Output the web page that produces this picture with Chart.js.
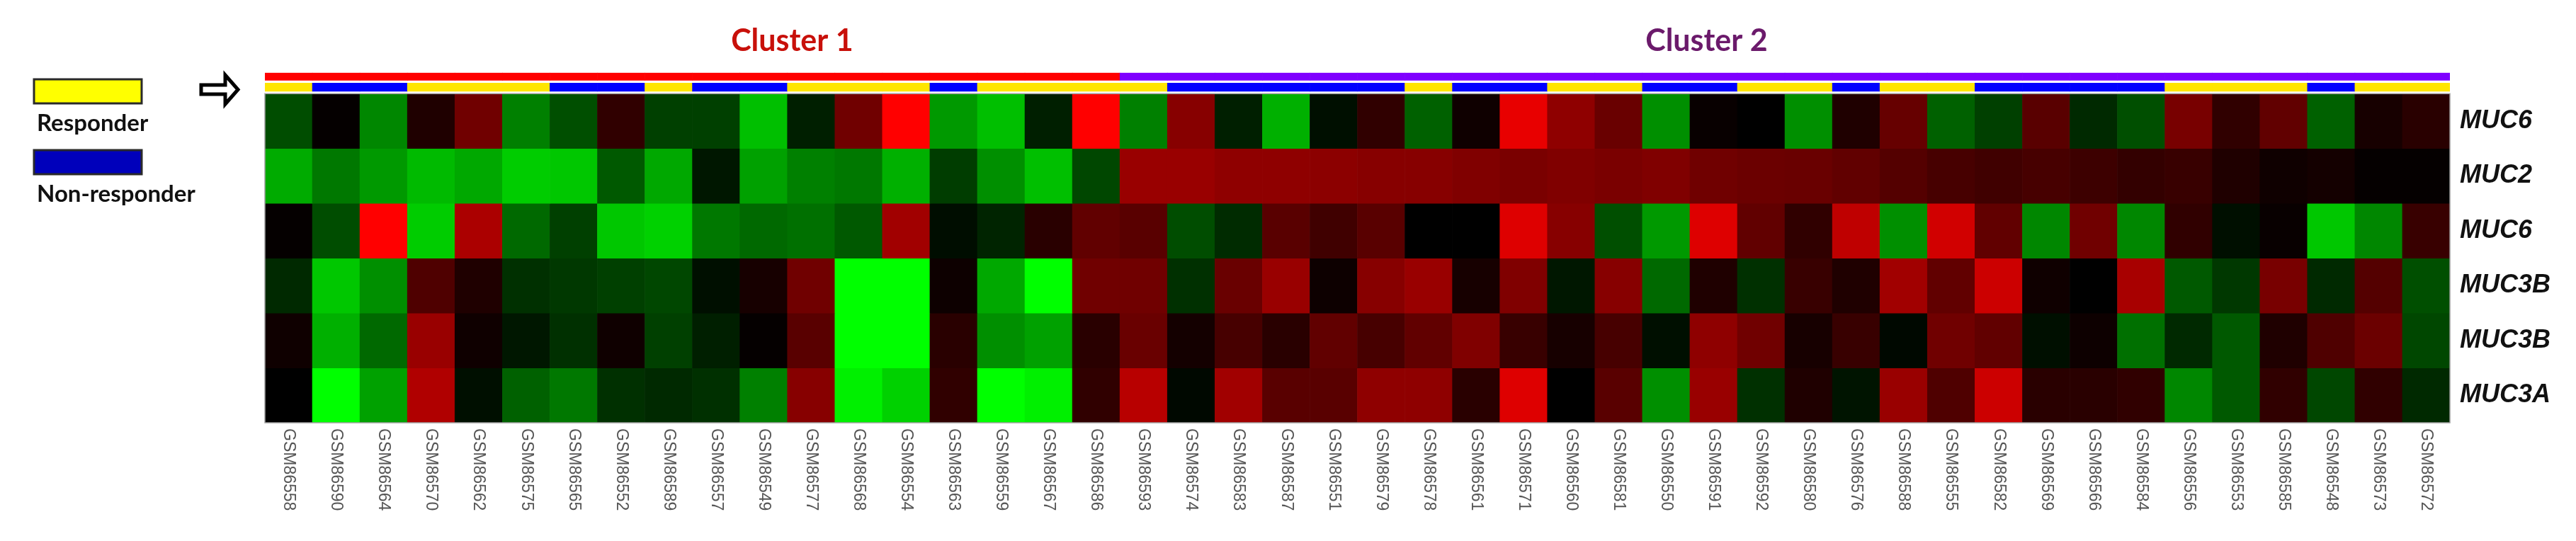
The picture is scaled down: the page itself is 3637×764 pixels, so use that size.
<!DOCTYPE html>
<html><head><meta charset="utf-8">
<script src="https://cdn.jsdelivr.net/npm/chart.js@4.4.1/dist/chart.umd.min.js"></script>
<style>html,body{margin:0;padding:0;background:#fff;}#wrap{width:3637px;height:764px;}</style>
</head><body><div id="wrap"><canvas id="c" width="3637" height="764"></canvas></div>
<script>
// ---------- DATA ----------
const samples = ['GSM86558','GSM86590','GSM86564','GSM86570','GSM86562','GSM86575','GSM86565','GSM86552','GSM86589','GSM86557','GSM86549','GSM86577','GSM86568','GSM86554','GSM86563','GSM86559','GSM86567','GSM86586','GSM86593','GSM86574','GSM86583','GSM86587','GSM86551','GSM86579','GSM86578','GSM86561','GSM86571','GSM86560','GSM86581','GSM86550','GSM86591','GSM86592','GSM86580','GSM86576','GSM86588','GSM86555','GSM86582','GSM86569','GSM86566','GSM86584','GSM86556','GSM86553','GSM86585','GSM86548','GSM86573','GSM86572'];
const genes = ['MUC6','MUC2','MUC6','MUC3B','MUC3B','MUC3A'];
// expression (green = low, black = 0, red = high), scale -1..1
const muc6a  = [-0.3,0.02,-0.53,0.12,0.44,-0.5,-0.31,0.19,-0.25,-0.25,-0.75,-0.12,0.44,1.0,-0.6,-0.75,-0.12,1.0,-0.5,0.53,-0.12,-0.69,-0.06,0.19,-0.38,0.06,0.91,0.56,0.41,-0.56,0.03,0,-0.56,0.12,0.4,-0.38,-0.25,0.35,-0.16,-0.31,0.47,0.19,0.38,-0.38,0.09,0.16];
const muc2   = [-0.67,-0.47,-0.6,-0.73,-0.66,-0.8,-0.78,-0.35,-0.66,-0.09,-0.63,-0.5,-0.47,-0.69,-0.24,-0.56,-0.75,-0.28,0.6,0.6,0.56,0.56,0.55,0.53,0.53,0.5,0.48,0.5,0.48,0.5,0.44,0.42,0.41,0.38,0.33,0.28,0.25,0.28,0.24,0.2,0.22,0.12,0.06,0.08,0.02,0.02];
const muc6b  = [0.02,-0.3,1.0,-0.8,0.67,-0.41,-0.25,-0.78,-0.82,-0.47,-0.41,-0.44,-0.35,0.63,-0.05,-0.14,0.16,0.38,0.35,-0.3,-0.17,0.35,0.25,0.35,0,0,0.87,0.53,-0.31,-0.6,0.87,0.38,0.19,0.75,-0.56,0.82,0.38,-0.53,0.44,-0.53,0.19,-0.06,0.03,-0.78,-0.53,0.22];
const muc3b1 = [-0.16,-0.78,-0.56,0.31,0.12,-0.19,-0.22,-0.25,-0.28,-0.06,0.09,0.44,-1,-1,0.05,-0.66,-1,0.44,0.44,-0.19,0.41,0.6,0.05,0.53,0.6,0.09,0.5,-0.09,0.53,-0.41,0.12,-0.19,0.22,0.12,0.63,0.38,0.8,0.06,0,0.66,-0.35,-0.22,0.47,-0.16,0.33,-0.31];
const muc3b2 = [0.06,-0.69,-0.41,0.6,0.06,-0.09,-0.19,0.06,-0.25,-0.12,0.02,0.35,-1,-1,0.16,-0.56,-0.63,0.16,0.41,0.08,0.28,0.16,0.38,0.28,0.38,0.5,0.22,0.09,0.28,-0.06,0.56,0.44,0.09,0.22,-0.03,0.44,0.38,-0.06,0.05,-0.44,-0.16,-0.35,0.12,0.31,0.42,-0.28];
const muc3a  = [0,-1,-0.63,0.69,-0.06,-0.38,-0.47,-0.19,-0.16,-0.19,-0.5,0.53,-0.94,-0.82,0.19,-1,-0.94,0.19,0.72,-0.03,0.63,0.35,0.35,0.56,0.56,0.16,0.87,0,0.35,-0.56,0.6,-0.19,0.12,-0.08,0.6,0.31,0.8,0.16,0.16,0.19,-0.53,-0.35,0.19,-0.28,0.19,-0.16];
// 1 = responder, 0 = non-responder
const responder = [1,0,0,1,1,1,0,0,1,0,0,1,1,1,0,1,1,1,1,0,0,0,0,0,1,0,0,1,1,0,0,1,1,0,1,1,0,0,0,0,1,1,1,0,1,1];
// cluster membership
const cluster = [1,1,1,1,1,1,1,1,1,1,1,1,1,1,1,1,1,1,2,2,2,2,2,2,2,2,2,2,2,2,2,2,2,2,2,2,2,2,2,2,2,2,2,2,2,2];
const clusterNames = ['Cluster 1','Cluster 2'];
const legendLabels = ['Responder','Non-responder'];

// ---------- STYLE ----------
const rows = [muc6a, muc2, muc6b, muc3b1, muc3b2, muc3a];
function heat(v){ const k = Math.round(255*Math.min(1,Math.abs(v))); return v >= 0 ? `rgb(${k},0,0)` : `rgb(0,${k},0)`; }
const clusterColor = {1:'#ff0000', 2:'#7f00ff'};
const clusterTitleColor = ['#c8100a','#6b1a6b'];
const clusterTitleCol = [11.1, 30.35]; // title centre, in column units
const respColor = {1:'#ffe600', 0:'#0000ff'};
const BAND_CLUSTER = [-0.382, -0.245];
const BAND_RESP = [-0.194, -0.043];

const datasets = [];
rows.forEach((vals, r) => {
  datasets.push({
    label: genes[r],
    data: vals.map(() => [r, r + 1]),
    backgroundColor: vals.map(heat),
    borderWidth: 0, grouped: false, barPercentage: 1, categoryPercentage: 1
  });
});
datasets.push({ label:'cluster', data: cluster.map(() => BAND_CLUSTER), backgroundColor: cluster.map(c => clusterColor[c]), borderWidth:0, grouped:false, barPercentage:1, categoryPercentage:1 });
datasets.push({ label:'response', data: responder.map(() => BAND_RESP), backgroundColor: responder.map(c => respColor[c]), borderWidth:0, grouped:false, barPercentage:1, categoryPercentage:1 });

const decor = {
  id: 'decor',
  afterDraw(chart) {
    const ctx = chart.ctx, x = chart.scales.x, y = chart.scales.y;
    const top = y.getPixelForValue(0), bot = y.getPixelForValue(genes.length);
    const colW = (x.right - x.left) / samples.length;
    ctx.save();
    ctx.strokeStyle = '#a0a0a0'; ctx.lineWidth = 1.5;
    ctx.strokeRect(x.left, top, x.right - x.left, bot - top);
    // sample labels (rotated clockwise)
    ctx.fillStyle = '#555'; ctx.font = '23px "Liberation Sans"';
    ctx.textAlign = 'left'; ctx.textBaseline = 'middle';
    samples.forEach((s, i) => {
      const px = x.getPixelForTick(i);
      ctx.save(); ctx.translate(px, bot + 8); ctx.rotate(Math.PI / 2); ctx.fillText(s, 0, 0); ctx.restore();
    });
    // cluster titles
    ctx.font = 'bold 43px Lato'; ctx.textAlign = 'center'; ctx.textBaseline = 'alphabetic';
    clusterNames.forEach((t, i) => {
      ctx.fillStyle = clusterTitleColor[i];
      ctx.fillText(t, x.left + clusterTitleCol[i] * colW, 72);
    });
    // legend
    ctx.lineWidth = 3; ctx.strokeStyle = '#2a2a2a';
    ctx.fillStyle = '#ffff00'; ctx.fillRect(48, 112, 152, 34); ctx.strokeRect(48, 112, 152, 34);
    ctx.fillStyle = '#0000bb'; ctx.fillRect(48, 212, 152, 34); ctx.strokeRect(48, 212, 152, 34);
    ctx.fillStyle = '#111'; ctx.font = 'bold 33px Lato'; ctx.textAlign = 'left';
    ctx.fillText(legendLabels[0], 52, 185);
    ctx.fillText(legendLabels[1], 52, 285);
    // arrow
    ctx.beginPath();
    ctx.moveTo(284, 120); ctx.lineTo(318, 120); ctx.lineTo(318, 106); ctx.lineTo(336, 126.5);
    ctx.lineTo(318, 147); ctx.lineTo(318, 133); ctx.lineTo(284, 133); ctx.closePath();
    ctx.fillStyle = '#fff'; ctx.fill(); ctx.lineWidth = 5; ctx.lineJoin = 'miter'; ctx.strokeStyle = '#000'; ctx.stroke();
    ctx.restore();
  }
};

new Chart(document.getElementById('c'), {
  type: 'bar',
  data: { labels: samples, datasets },
  options: {
    responsive: false, animation: false, devicePixelRatio: 1,
    layout: { padding: { left: 374, right: 0, top: 102.7, bottom: 167 } },
    plugins: { legend: { display: false }, tooltip: { enabled: false } },
    scales: {
      x: { type: 'category', display: false, offset: true, grid: { display: false } },
      y: {
        type: 'linear', position: 'right', reverse: true,
        min: BAND_CLUSTER[0], max: genes.length,
        grid: { display: false, drawTicks: false }, border: { display: false },
        afterBuildTicks: (s) => { s.ticks = genes.map((g, i) => ({ value: i + 0.5 })); },
        afterFit: (s) => { s.width = 178; },
        ticks: {
          autoSkip: false, padding: 14, color: '#111',
          font: { family: 'Liberation Sans', size: 36, style: 'italic', weight: 'bold' },
          callback: (v) => genes[Math.floor(v)]
        }
      }
    }
  },
  plugins: [decor]
});
</script></body></html>
